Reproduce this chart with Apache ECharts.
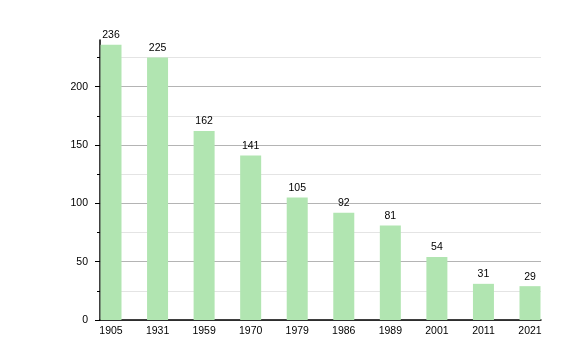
<!DOCTYPE html>
<html><head><meta charset="utf-8">
<script src="https://cdn.jsdelivr.net/npm/echarts@6/dist/echarts.min.js"></script>
<style>html,body{margin:0;padding:0;background:#fff}#c{width:580px;height:360px}</style>
</head><body><div id="c"></div>
<script>
const categories = ['1905','1931','1959','1970','1979','1986','1989','2001','2011','2021'];
const values = [236,225,162,141,105,92,81,54,31,29];
const majorTicks = [0,50,100,150,200];
const minorTicks = [25,75,125,175,225];
const yMax = 240;

const FONT = 'Liberation Sans';
const chart = echarts.init(document.getElementById('c'), null, {renderer:'canvas'});
chart.setOption({
  animation:false,
  backgroundColor:'#fff',
  textStyle:{fontFamily:FONT},
  grid:[
    {left:100, right:39, top:40, bottom:40},
    {left:111, right:50, top:40, bottom:40}
  ],
  xAxis:[
    {gridIndex:0, type:'value', min:0, max:1,
     axisLine:{show:true, onZero:false, lineStyle:{color:'#000', width:1.5}},
     axisTick:{show:false}, axisLabel:{show:false}, splitLine:{show:false}},
    {gridIndex:1, type:'category', data:categories, boundaryGap:false,
     axisLine:{show:false}, axisTick:{show:false},
     axisLabel:{color:'#000', fontSize:10.5, fontFamily:FONT, margin:6, interval:0},
     splitLine:{show:false}}
  ],
  yAxis:[
    {gridIndex:0, type:'value', position:'left', min:0, max:yMax, interval:50,
     axisLine:{show:true, lineStyle:{color:'#000', width:1.5}},
     axisTick:{show:true, length:5, customValues:majorTicks, lineStyle:{color:'#000'}},
     axisLabel:{color:'#000', fontSize:10.5, fontFamily:FONT, margin:12, customValues:majorTicks},
     splitLine:{show:true, showMinLine:true, showMaxLine:true, lineStyle:{color:'#b4b4b4', width:1}}},
    {gridIndex:0, type:'value', position:'left', offset:0, min:0, max:yMax, interval:25,
     axisLine:{show:false},
     axisTick:{show:true, length:3, customValues:minorTicks, lineStyle:{color:'#000'}},
     axisLabel:{show:false, customValues:minorTicks},
     splitLine:{show:true, showMinLine:true, showMaxLine:true, lineStyle:{color:'#e4e4e4', width:1}}},
    {gridIndex:1, type:'value', min:0, max:yMax, show:false}
  ],
  series:[{
    type:'bar', xAxisIndex:1, yAxisIndex:2, data:values, barWidth:21,
    itemStyle:{color:'#b1e5b1'},
    label:{show:true, position:'top', distance:4, color:'#000', fontSize:10.5, fontFamily:FONT}
  }]
});
</script></body></html>
